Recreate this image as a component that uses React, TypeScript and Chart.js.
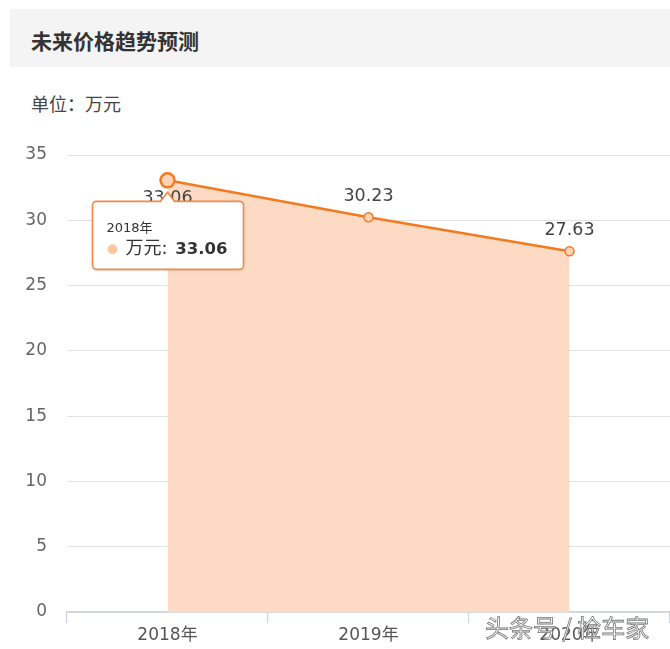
import React, { useEffect, useRef } from "react";
import { Chart, registerables } from "chart.js";

Chart.register(...registerables);

const categories = ["2018年", "2019年", "2020年"];
const prices = [33.06, 30.23, 27.63];
const yTickValues = [0, 5, 10, 15, 20, 25, 30, 35];
const seriesName = "万元";
const activeIndex = 0;
const titleText = "未来价格趋势预测";
const unitText = "单位：万元";
const watermarkText = "头条号 / 检车家";

const FONT = '"DejaVu Sans", "Noto Sans CJK SC", sans-serif';
const LINE_COLOR = "#f47a20";
const FILL_COLOR = "#fddac4";
const POINT_FILL = "#fdd3b6";

function roundedTooltipPath(ctx: CanvasRenderingContext2D, bx: number, by: number, bw: number, bh: number, r: number, cx: number, tipY: number) {
  ctx.beginPath();
  ctx.moveTo(bx + r, by);
  ctx.lineTo(cx - 7, by);
  ctx.lineTo(cx, tipY);
  ctx.lineTo(cx + 7, by);
  ctx.lineTo(bx + bw - r, by);
  ctx.arcTo(bx + bw, by, bx + bw, by + r, r);
  ctx.lineTo(bx + bw, by + bh - r);
  ctx.arcTo(bx + bw, by + bh, bx + bw - r, by + bh, r);
  ctx.lineTo(bx + r, by + bh);
  ctx.arcTo(bx, by + bh, bx, by + bh - r, r);
  ctx.lineTo(bx, by + r);
  ctx.arcTo(bx, by, bx + r, by, r);
  ctx.closePath();
}

const overlayPlugin = {
  id: "overlay",
  afterDatasetsDraw(chart: any) {
    const ctx: CanvasRenderingContext2D = chart.ctx;
    const meta = chart.getDatasetMeta(0);
    ctx.save();
    // data labels
    ctx.font = `17.5px ${FONT}`;
    ctx.fillStyle = "#444";
    ctx.textAlign = "center";
    ctx.textBaseline = "middle";
    meta.data.forEach((pt: any, i: number) => {
      const dy = i === activeIndex ? 18 : -21;
      ctx.fillText(prices[i].toFixed(2), pt.x, pt.y + dy);
    });

    // tooltip
    const p = meta.data[activeIndex];
    const bw = 151;
    const bh = 68;
    const bx = p.x - 75;
    const by = p.y + 21;
    ctx.shadowColor = "rgba(0,0,0,0.15)";
    ctx.shadowBlur = 3;
    ctx.shadowOffsetY = 1;
    roundedTooltipPath(ctx, bx, by, bw, bh, 4, p.x, p.y + 12);
    ctx.fillStyle = "#ffffff";
    ctx.fill();
    ctx.shadowColor = "transparent";
    ctx.lineWidth = 1.6;
    ctx.strokeStyle = "#f0894a";
    ctx.stroke();

    ctx.textAlign = "left";
    ctx.textBaseline = "middle";
    ctx.fillStyle = "#333";
    ctx.font = `13px ${FONT}`;
    ctx.fillText(categories[activeIndex], bx + 14, by + 27);

    ctx.beginPath();
    ctx.arc(bx + 20, by + 48, 5, 0, Math.PI * 2);
    ctx.fillStyle = "#fcc8a4";
    ctx.fill();

    ctx.fillStyle = "#333";
    ctx.font = `18px ${FONT}`;
    const nameText = seriesName + ": ";
    ctx.fillText(nameText, bx + 33, by + 48);
    const w = ctx.measureText(nameText).width;
    ctx.font = `bold 16.5px ${FONT}`;
    ctx.fillText(prices[activeIndex].toFixed(2), bx + 33 + w + 2, by + 48);
    ctx.restore();
  },
};

export default function App() {
  const canvasRef = useRef<HTMLCanvasElement | null>(null);

  useEffect(() => {
    if (!canvasRef.current) return;
    const chart = new Chart(canvasRef.current, {
      type: "line",
      data: {
        labels: categories,
        datasets: [
          {
            label: seriesName,
            data: prices,
            borderColor: LINE_COLOR,
            borderWidth: 2.5,
            backgroundColor: FILL_COLOR,
            fill: "origin",
            tension: 0,
            pointRadius: (c: any) => (c.dataIndex === activeIndex ? 7 : 4.5),
            pointBorderWidth: (c: any) => (c.dataIndex === activeIndex ? 2.5 : 1.5),
            pointBackgroundColor: POINT_FILL,
            pointBorderColor: LINE_COLOR,
          },
        ],
      },
      options: {
        responsive: false,
        animation: false,
        events: [],
        layout: { autoPadding: false, padding: { top: 155, right: 0, left: 0, bottom: 0 } },
        plugins: {
          legend: { display: false },
          tooltip: { enabled: false },
        },
        scales: {
          x: {
            type: "category",
            offset: true,
            afterFit: (s: any) => {
              s.height = 37;
            },
            grid: {
              display: true,
              offset: true,
              drawOnChartArea: false,
              drawTicks: true,
              tickLength: 11,
              color: "#ccd6e1",
              lineWidth: 1.2,
            },
            border: { display: true, color: "#ccd6e1", width: 1.5 },
            ticks: {
              color: "#555",
              font: { family: FONT, size: 17 },
              padding: 2,
              maxRotation: 0,
            },
          },
          y: {
            min: yTickValues[0],
            max: yTickValues[yTickValues.length - 1],
            afterFit: (s: any) => {
              s.width = 67;
            },
            afterBuildTicks: (s: any) => {
              s.ticks = yTickValues.map((v) => ({ value: v }));
            },
            grid: {
              color: "#e3e3e3",
              lineWidth: 1,
              drawTicks: false,
            },
            border: { display: false },
            ticks: {
              color: "#666",
              font: { family: FONT, size: 17 },
              padding: 20,
            },
          },
        },
      },
      plugins: [overlayPlugin],
    } as any);
    return () => chart.destroy();
  }, []);

  return (
    <div
      style={{
        position: "absolute",
        left: 0,
        top: 0,
        width: 670,
        height: 649,
        background: "#fff",
        overflow: "hidden",
        fontFamily: '"Noto Sans CJK SC", "DejaVu Sans", sans-serif',
      }}
    >
      <div
        style={{
          position: "absolute",
          left: 10,
          top: 9,
          width: 660,
          height: 58,
          background: "#f4f4f4",
        }}
      />
      <div
        style={{
          position: "absolute",
          left: 31,
          top: 25,
          fontSize: 21,
          lineHeight: "30px",
          fontWeight: "bold",
          color: "#333",
          whiteSpace: "nowrap",
        }}
      >
        {titleText}
      </div>
      <div
        style={{
          position: "absolute",
          left: 31,
          top: 90,
          fontSize: 18,
          lineHeight: "26px",
          color: "#444",
          whiteSpace: "nowrap",
        }}
      >
        {unitText}
      </div>
      <canvas
        ref={canvasRef}
        width={670}
        height={649}
        style={{ position: "absolute", left: 0, top: 0, width: 670, height: 649 }}
      />
      <div
        style={{
          position: "absolute",
          left: 485,
          top: 612,
          fontSize: 24,
          lineHeight: "30px",
          color: "#ffffff",
          WebkitTextStroke: "0.8px #777",
          whiteSpace: "nowrap",
        }}
      >
        {watermarkText}
      </div>
    </div>
  );
}
